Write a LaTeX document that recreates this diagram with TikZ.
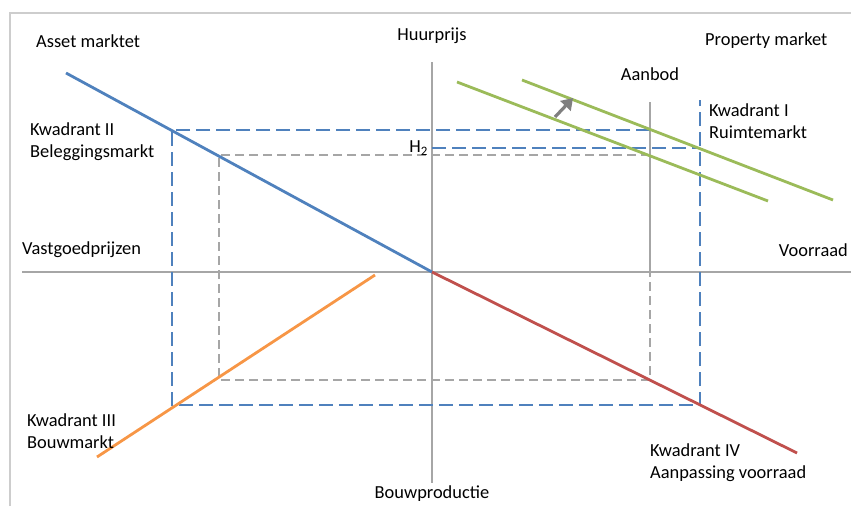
\documentclass[tikz,border=0pt]{standalone}
\usepackage{fontspec}
\setmainfont{Carlito}
\usetikzlibrary{arrows.meta}
\definecolor{cblue}{HTML}{4F81BD}
\definecolor{cred}{HTML}{C0504D}
\definecolor{cgreen}{HTML}{9BBB59}
\definecolor{corange}{HTML}{F79646}
\definecolor{caxis}{HTML}{A6A6A6}
\definecolor{cframe}{HTML}{CDCDCD}
\definecolor{carrow}{HTML}{7F7F7F}
\begin{document}
\begin{tikzpicture}[x=1pt,y=-1pt,
  lbl/.style={font=\fontsize{18.4}{22}\selectfont, inner sep=0pt, align=left, text=black},
  axisline/.style={draw=caxis, line width=2.2pt},
  curve/.style={line width=2.8pt},
  bdash/.style={draw=cblue, line width=2.3pt, dash pattern=on 14pt off 6pt},
  gdash/.style={draw=caxis, line width=2.2pt, dash pattern=on 9pt off 5pt}]
\useasboundingbox (0,0) rectangle (851,506);
% frame
\coordinate (f1) at (10,506); \coordinate (f2) at (10,13); \coordinate (f3) at (851,13);
\draw[cframe, line width=2.2pt] (f1) -- (f2) -- (f3);
% axes
\coordinate (hl) at (22,272); \coordinate (hr) at (851,272);
\coordinate (vt) at (432,62); \coordinate (vb) at (432,483);
\coordinate (O) at (432,272);
\draw[axisline] (hl) -- (hr);
\draw[axisline] (vt) -- (vb);
% supply line
\coordinate (at) at (650,102); \coordinate (am) at (650,272); \coordinate (ab) at (650,380);
\draw[axisline] (at) -- (am);
% gray dashed rectangle
\coordinate (g1) at (650,155); \coordinate (g2) at (219,155); \coordinate (g3) at (219,380);
\draw[gdash] (g1) -- (g2) -- (g3) -- (ab) -- (am);
% blue dashed rectangle
\coordinate (b1) at (650,130); \coordinate (b2) at (172,130); \coordinate (b3) at (172,405);
\coordinate (b4) at (700,405); \coordinate (b5) at (700,100);
\coordinate (h2) at (432,148); \coordinate (h2r) at (700,148);
\draw[bdash] (b1) -- (b2) -- (b3) -- (b4) -- (b5);
\draw[bdash] (h2) -- (h2r);
% curves
\coordinate (bl1) at (66,73);
\coordinate (rd2) at (797,453);
\coordinate (or1) at (97,457); \coordinate (or2) at (375,275);
\coordinate (gu1) at (522,80); \coordinate (gu2) at (833,200);
\coordinate (gl1) at (457,82); \coordinate (gl2) at (768,201);
\draw[curve, cblue] (bl1) -- (O);
\draw[curve, cred] (O) -- (rd2);
\draw[curve, corange] (or1) -- (or2);
\draw[curve, cgreen] (gu1) -- (gu2);
\draw[curve, cgreen] (gl1) -- (gl2);
% shift arrow
\coordinate (ar1) at (555,117); \coordinate (ar2) at (573,98);
\draw[carrow, line width=3.2pt, -{Triangle[length=11pt,width=14pt]}] (ar1) -- (ar2);
% labels
\node[lbl, anchor=west] (tAsset) at (36,41) {Asset marktet};
\node[lbl] (tHuur) at (432,36) {Huurprijs};
\node[lbl, anchor=west] (tProp) at (705,41) {Property market};
\node[lbl] (tAanbod) at (650,74) {Aanbod};
\node[lbl, anchor=west] (tK1) at (709,121) {Kwadrant I\\Ruimtemarkt};
\node[lbl, anchor=west] (tK2) at (30,142) {Kwadrant II\\Beleggingsmarkt};
\node[lbl, anchor=east] (tH2) at (428,148) {H\textsubscript{2}};
\node[lbl, anchor=west] (tVast) at (22,250) {Vastgoedprijzen};
\node[lbl, anchor=east] (tVoor) at (848,250) {Voorraad};
\node[lbl, anchor=west] (tK3) at (27,431) {Kwadrant III\\Bouwmarkt};
\node[lbl, anchor=west] (tK4) at (650,463) {Kwadrant IV\\Aanpassing voorraad};
\node[lbl] (tBouw) at (432,494) {Bouwproductie};
\end{tikzpicture}
\end{document}
